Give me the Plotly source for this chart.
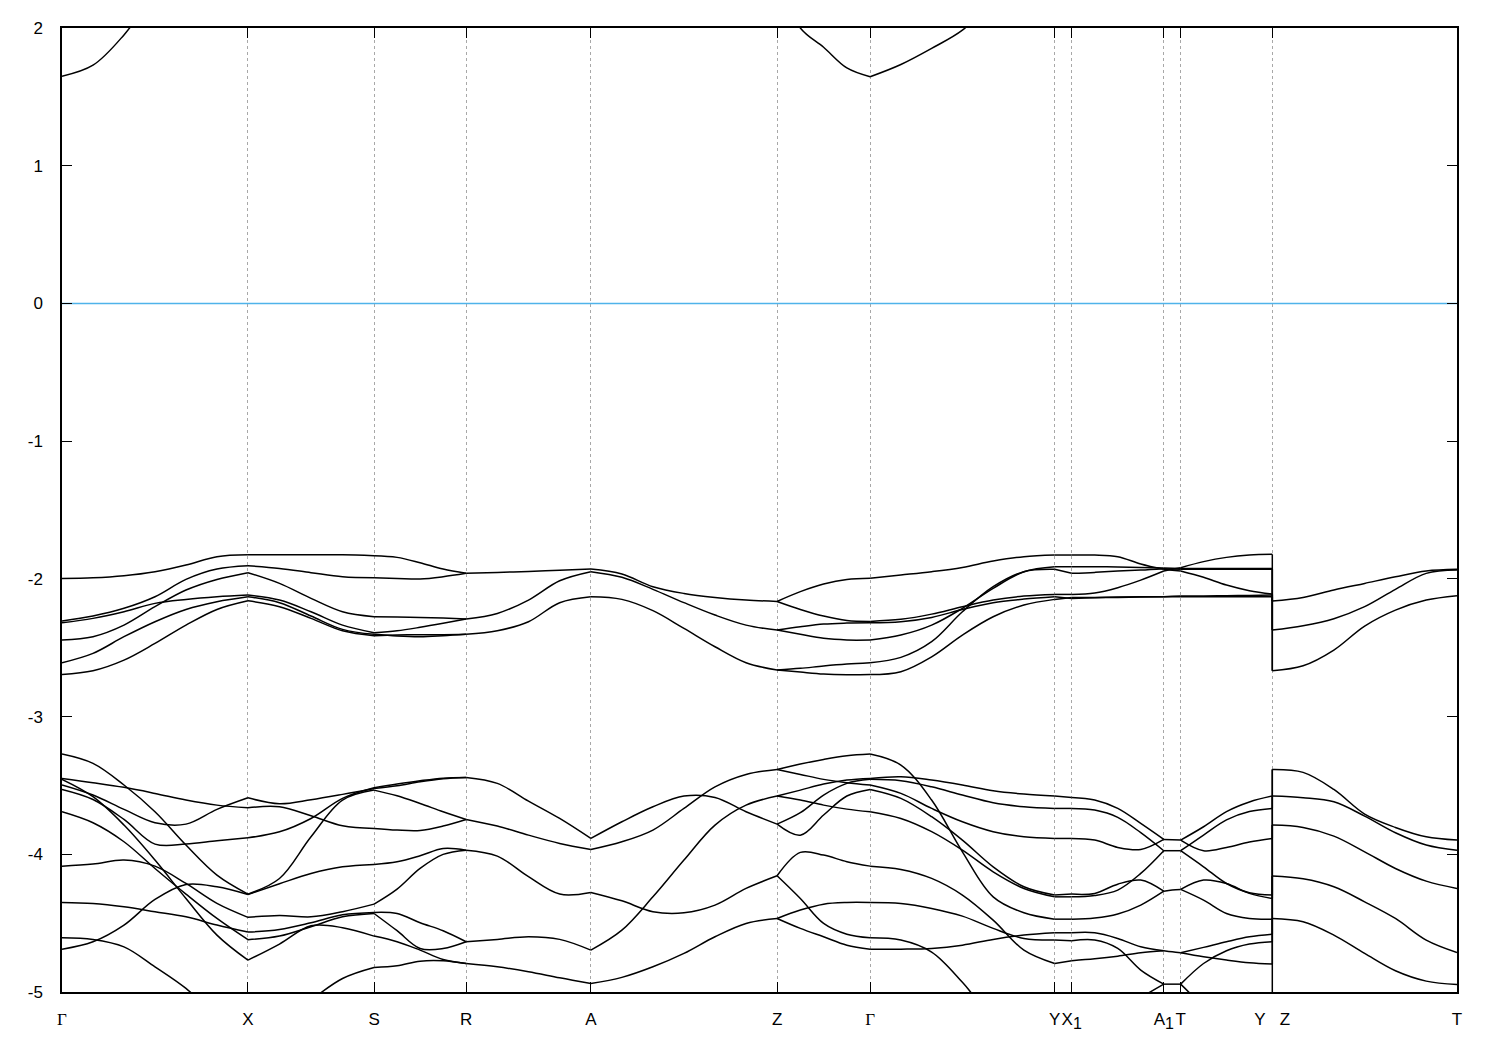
import numpy as np
import plotly.graph_objects as go

# ---------------- k-path (high-symmetry points) ----------------
SUB1 = "<sub><span style='font-size:16px'>1</span></sub>"
K_LABELS = ["<span style='font-family:Liberation Serif'>Γ</span>", "X", "S", "R", "A", "Z",
            "<span style='font-family:Liberation Serif'>Γ</span>", "Y", "X" + SUB1,
            "A" + SUB1, "T", "Y\u00a0\u00a0\u00a0Z", "T"]
K_POS = [0.0, 0.1333, 0.2237, 0.2897, 0.3791, 0.5126, 0.5793,
         0.7116, 0.7238, 0.7898, 0.8019, 0.8676, 1.0]
Y_TICKS = [2, 1, 0, -1, -2, -3, -4, -5]
FERMI_LEVEL = 0.0

# ---------------- band energies (eV), sampled uniformly inside each segment ----------------
GX_BANDS = [
    [1.65, 1.73, 1.95, 2.25, 2.5, 2.7, 2.8],
    [-1.997, -1.992, -1.977, -1.948, -1.900, -1.839, -1.825],
    [-2.306, -2.270, -2.214, -2.130, -2.004, -1.929, -1.905],
    [-2.444, -2.420, -2.336, -2.202, -2.081, -2.004, -1.955],
    [-2.319, -2.287, -2.239, -2.178, -2.149, -2.130, -2.118],
    [-2.609, -2.541, -2.420, -2.311, -2.222, -2.166, -2.130],
    [-2.694, -2.667, -2.590, -2.469, -2.336, -2.222, -2.159],
    [-3.272, -3.340, -3.497, -3.691, -3.933, -4.151, -4.289],
    [-3.449, -3.480, -3.514, -3.558, -3.606, -3.643, -3.662],
    [-3.497, -3.570, -3.674, -3.771, -3.781, -3.674, -3.590],
    [-3.529, -3.602, -3.747, -3.926, -3.926, -3.902, -3.880],
    [-3.456, -3.582, -3.788, -4.042, -4.321, -4.587, -4.769],
    [-3.691, -3.771, -3.909, -4.103, -4.289, -4.466, -4.620],
    [-4.086, -4.071, -4.042, -4.086, -4.212, -4.357, -4.458],
    [-4.350, -4.357, -4.381, -4.417, -4.454, -4.514, -4.565],
    [-4.689, -4.635, -4.514, -4.328, -4.219, -4.236, -4.292],
    [-4.606, -4.618, -4.672, -4.817, -4.974, -5.18, -5.35],
]
XS_BANDS = [
    [-1.825, -1.825, -1.825, -1.825, -1.832],
    [-1.905, -1.924, -1.955, -1.985, -1.992],
    [-1.955, -2.033, -2.142, -2.239, -2.275],
    [-2.118, -2.154, -2.239, -2.336, -2.391],
    [-2.130, -2.173, -2.270, -2.367, -2.403],
    [-2.159, -2.202, -2.287, -2.377, -2.413],
    [-3.590, -3.633, -3.604, -3.565, -3.522],
    [-3.662, -3.655, -3.720, -3.793, -3.812],
    [-3.880, -3.837, -3.740, -3.594, -3.517],
    [-4.289, -4.176, -3.873, -3.607, -3.534],
    [-4.292, -4.214, -4.139, -4.091, -4.074],
    [-4.458, -4.444, -4.454, -4.417, -4.362],
    [-4.565, -4.546, -4.497, -4.439, -4.422],
    [-4.620, -4.594, -4.526, -4.454, -4.430],
    [-4.769, -4.652, -4.519, -4.533, -4.594],
    [-5.35, -5.25, -5.06, -4.902, -4.822],
]
SR_BANDS = [
    [-1.832, -1.844, -1.883, -1.929, -1.960],
    [-1.992, -1.997, -2.001, -1.985, -1.960],
    [-2.275, -2.277, -2.280, -2.285, -2.292],
    [-2.391, -2.377, -2.352, -2.323, -2.292],
    [-2.403, -2.415, -2.420, -2.413, -2.403],
    [-2.413, -2.408, -2.406, -2.406, -2.403],
    [-3.522, -3.502, -3.473, -3.451, -3.442],
    [-3.517, -3.490, -3.466, -3.447, -3.442],
    [-3.534, -3.575, -3.631, -3.691, -3.747],
    [-3.812, -3.824, -3.827, -3.795, -3.747],
    [-4.074, -4.055, -4.011, -3.958, -3.970],
    [-4.362, -4.253, -4.103, -4.001, -3.970],
    [-4.422, -4.430, -4.497, -4.555, -4.635],
    [-4.430, -4.555, -4.684, -4.684, -4.635],
    [-4.594, -4.635, -4.696, -4.764, -4.793],
    [-4.822, -4.810, -4.776, -4.773, -4.793],
]
RA_BANDS = [
    [-1.960, -1.953, -1.946, -1.938, -1.929],
    [-2.292, -2.251, -2.154, -2.014, -1.948],
    [-2.403, -2.377, -2.311, -2.173, -2.130],
    [-3.442, -3.485, -3.614, -3.740, -3.885],
    [-3.747, -3.795, -3.861, -3.921, -3.965],
    [-3.970, -4.013, -4.163, -4.289, -4.277],
    [-4.635, -4.618, -4.599, -4.618, -4.696],
    [-4.793, -4.817, -4.853, -4.897, -4.938],
]
AZ_BANDS = [
    [-1.929, -1.965, -2.057, -2.106, -2.135, -2.154, -2.164],
    [-1.948, -1.989, -2.076, -2.173, -2.263, -2.336, -2.372],
    [-2.130, -2.149, -2.231, -2.360, -2.493, -2.609, -2.662],
    [-3.885, -3.764, -3.655, -3.577, -3.587, -3.691, -3.781],
    [-3.965, -3.909, -3.824, -3.667, -3.510, -3.420, -3.384],
    [-4.696, -4.551, -4.309, -4.042, -3.788, -3.643, -3.577],
    [-4.277, -4.338, -4.417, -4.425, -4.369, -4.248, -4.156],
    [-4.938, -4.894, -4.817, -4.720, -4.599, -4.502, -4.466],
]
ZG_BANDS = [
    [2.35, 2.0, 1.86, 1.71, 1.646],
    [-2.164, -2.093, -2.038, -2.004, -1.995],
    [-2.164, -2.222, -2.270, -2.302, -2.309],
    [-2.372, -2.348, -2.328, -2.321, -2.319],
    [-2.372, -2.403, -2.432, -2.444, -2.444],
    [-2.662, -2.650, -2.633, -2.619, -2.609],
    [-2.662, -2.677, -2.691, -2.696, -2.695],
    [-3.384, -3.345, -3.311, -3.284, -3.272],
    [-3.384, -3.420, -3.456, -3.480, -3.497],
    [-3.577, -3.534, -3.490, -3.461, -3.449],
    [-3.577, -3.606, -3.643, -3.672, -3.691],
    [-3.781, -3.698, -3.570, -3.485, -3.456],
    [-3.781, -3.861, -3.715, -3.577, -3.529],
    [-4.156, -3.986, -4.006, -4.054, -4.086],
    [-4.156, -4.321, -4.502, -4.580, -4.606],
    [-4.466, -4.405, -4.362, -4.350, -4.350],
    [-4.466, -4.538, -4.599, -4.660, -4.689],
]
GY_BANDS = [
    [1.646, 1.735, 1.852, 1.984, 2.2, 2.4, 2.5],
    [-1.995, -1.972, -1.948, -1.917, -1.871, -1.839, -1.827],
    [-2.309, -2.294, -2.256, -2.202, -2.154, -2.125, -2.113],
    [-2.319, -2.311, -2.280, -2.222, -2.173, -2.147, -2.130],
    [-2.444, -2.408, -2.336, -2.214, -2.069, -1.948, -1.912],
    [-2.609, -2.570, -2.456, -2.239, -2.057, -1.948, -1.931],
    [-2.695, -2.674, -2.566, -2.408, -2.275, -2.190, -2.149],
    [-3.272, -3.352, -3.606, -3.982, -4.309, -4.425, -4.471],
    [-3.449, -3.437, -3.461, -3.497, -3.539, -3.563, -3.577],
    [-3.456, -3.466, -3.510, -3.570, -3.626, -3.655, -3.667],
    [-3.497, -3.558, -3.667, -3.764, -3.836, -3.873, -3.885],
    [-3.529, -3.594, -3.727, -3.897, -4.091, -4.236, -4.296],
    [-3.691, -3.740, -3.836, -3.970, -4.127, -4.248, -4.309],
    [-4.086, -4.110, -4.175, -4.296, -4.478, -4.696, -4.793],
    [-4.350, -4.357, -4.393, -4.449, -4.538, -4.611, -4.623],
    [-4.689, -4.689, -4.684, -4.660, -4.618, -4.587, -4.570],
    [-4.606, -4.623, -4.710, -4.930, -5.20, -5.40, -5.47],
]
YX1_BANDS = [
    [-1.827, -1.827], [-1.912, -1.912], [-1.931, -1.960],
    [-2.113, -2.113], [-2.130, -2.142], [-2.149, -2.135],
    [-3.577, -3.587], [-3.667, -3.667], [-3.885, -3.885],
    [-4.296, -4.289], [-4.309, -4.309], [-4.471, -4.471],
    [-4.570, -4.570], [-4.623, -4.628], [-4.793, -4.773],
    [-5.47, -5.40],
]
X1A1_BANDS = [
    [-1.827, -1.827, -1.839, -1.892, -1.931],
    [-1.912, -1.912, -1.914, -1.917, -1.922],
    [-1.960, -1.953, -1.943, -1.936, -1.926],
    [-2.113, -2.103, -2.064, -2.009, -1.943],
    [-2.142, -2.137, -2.135, -2.132, -2.130],
    [-2.135, -2.135, -2.132, -2.130, -2.130],
    [-3.587, -3.606, -3.667, -3.776, -3.892],
    [-3.885, -3.897, -3.950, -3.965, -3.892],
    [-3.667, -3.679, -3.732, -3.843, -3.974],
    [-4.309, -4.299, -4.260, -4.139, -3.974],
    [-4.289, -4.284, -4.217, -4.187, -4.268],
    [-4.471, -4.463, -4.434, -4.369, -4.268],
    [-4.570, -4.570, -4.611, -4.672, -4.700],
    [-4.773, -4.759, -4.740, -4.715, -4.700],
    [-4.628, -4.623, -4.684, -4.841, -4.943],
    [-5.40, -5.28, -5.14, -5.04, -4.943],
]
A1T_BANDS = [
    [-1.931, -1.937, -1.943],
    [-1.943, -1.931, -1.919],
    [-1.922, -1.923, -1.924],
    [-1.926, -1.929, -1.931],
    [-2.130, -2.127, -2.125],
    [-2.130, -2.130, -2.130],
    [-3.892, -3.894, -3.897],
    [-3.974, -3.974, -3.974],
    [-4.268, -4.260, -4.255],
    [-4.700, -4.708, -4.715],
    [-4.943, -4.943, -4.943],
]
TY_BANDS = [
    [-1.943, -1.989, -2.045, -2.086, -2.110],
    [-1.919, -1.875, -1.844, -1.827, -1.822],
    [-1.924, -1.924, -1.924, -1.924, -1.924],
    [-1.931, -1.931, -1.931, -1.931, -1.931],
    [-2.125, -2.125, -2.122, -2.120, -2.118],
    [-2.130, -2.130, -2.130, -2.130, -2.130],
    [-3.897, -3.800, -3.690, -3.620, -3.577],
    [-3.897, -3.974, -3.950, -3.911, -3.885],
    [-3.974, -3.860, -3.750, -3.690, -3.667],
    [-3.974, -4.091, -4.212, -4.279, -4.296],
    [-4.255, -4.187, -4.212, -4.284, -4.321],
    [-4.255, -4.333, -4.430, -4.466, -4.471],
    [-4.715, -4.676, -4.635, -4.599, -4.580],
    [-4.715, -4.744, -4.768, -4.788, -4.797],
    [-4.943, -4.793, -4.700, -4.652, -4.635],
    [-4.943, -5.11, -5.30, -5.45, -5.50],
]
ZT_BANDS = [
    [-2.161, -2.135, -2.081, -2.033, -1.985, -1.943, -1.931],
    [-2.372, -2.340, -2.289, -2.202, -2.076, -1.960, -1.936],
    [-2.667, -2.631, -2.517, -2.343, -2.227, -2.154, -2.122],
    [-3.384, -3.405, -3.529, -3.708, -3.805, -3.873, -3.897],
    [-3.577, -3.589, -3.619, -3.723, -3.844, -3.933, -3.970],
    [-3.788, -3.805, -3.868, -3.982, -4.103, -4.195, -4.248],
    [-4.158, -4.178, -4.236, -4.345, -4.466, -4.623, -4.713],
    [-4.466, -4.490, -4.587, -4.720, -4.846, -4.921, -4.945],
]

SEGMENTS = [
    (0, 1, GX_BANDS), (1, 2, XS_BANDS), (2, 3, SR_BANDS), (3, 4, RA_BANDS),
    (4, 5, AZ_BANDS), (5, 6, ZG_BANDS), (6, 7, GY_BANDS), (7, 8, YX1_BANDS),
    (8, 9, X1A1_BANDS), (9, 10, A1T_BANDS), (10, 11, TY_BANDS), (11, 12, ZT_BANDS),
]

# ---------------- build band polylines ----------------
bx, by = [], []
for i0, i1, bands in SEGMENTS:
    for e in bands:
        k = np.linspace(K_POS[i0], K_POS[i1], len(e))
        bx.extend(k.tolist() + [None])
        by.extend(list(e) + [None])

# discontinuity Y|Z: bands jump at the same k
y_end = sorted([b[-1] for b in TY_BANDS], reverse=True)
z_start = sorted([b[0] for b in ZT_BANDS], reverse=True)
jx, jy = [], []
for i, e in enumerate(y_end):
    z = z_start[i * len(z_start) // len(y_end)]
    jx.extend([K_POS[11], K_POS[11], None])
    jy.extend([e, z, None])

fig = go.Figure()
fig.add_trace(go.Scatter(x=[K_POS[0], K_POS[-1]], y=[FERMI_LEVEL, FERMI_LEVEL], mode="lines",
                         line=dict(color="#4fb3ea", width=1.5), hoverinfo="skip"))
fig.add_trace(go.Scatter(x=bx, y=by, mode="lines", connectgaps=False,
                         line=dict(color="black", width=1.5, shape="spline", smoothing=1.0),
                         hoverinfo="skip"))
fig.add_trace(go.Scatter(x=jx, y=jy, mode="lines", connectgaps=False,
                         line=dict(color="black", width=1.5), hoverinfo="skip"))

fig.update_layout(
    width=1484, height=1034,
    margin=dict(l=54, r=35, t=20, b=50, pad=0, autoexpand=False),
    plot_bgcolor="white", paper_bgcolor="white",
    showlegend=False,
    font=dict(family="Liberation Sans, Arial, sans-serif", size=17, color="black"),
)
fig.update_xaxes(
    range=[K_POS[0], K_POS[-1]], tickmode="array", tickvals=K_POS, ticktext=K_LABELS,
    tickangle=0, ticks="inside", ticklen=10, tickwidth=1.2, tickcolor="black",
    showline=True, linecolor="black", linewidth=1.5, mirror="ticks",
    showgrid=True, gridcolor="#a8a8a8", gridwidth=1, griddash="3px,3px",
    zeroline=False, ticklabelstandoff=11, automargin=False,
)
fig.update_yaxes(
    range=[-5, 2], tickmode="array", tickvals=Y_TICKS, ticktext=[str(v) for v in Y_TICKS],
    ticks="inside", ticklen=10, tickwidth=1.2, tickcolor="black",
    showline=True, linecolor="black", linewidth=1.5, mirror="ticks",
    showgrid=False, zeroline=False, ticklabelstandoff=14, automargin=False,
)

fig.write_html("out.html")
